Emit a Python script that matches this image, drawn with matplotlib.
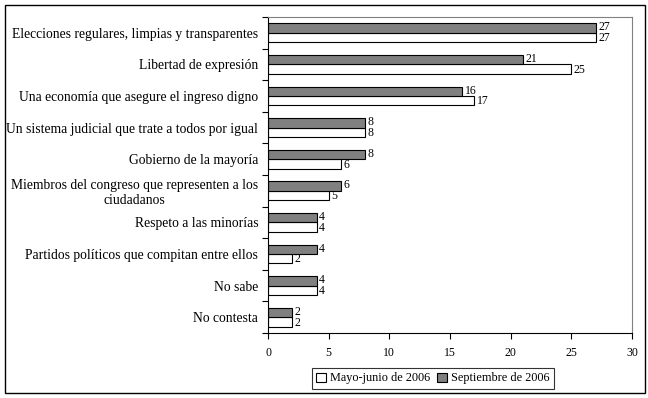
import matplotlib
matplotlib.use("Agg")
import matplotlib.pyplot as plt
from matplotlib.patches import Rectangle
import numpy as np

categories = [
    "Elecciones regulares, limpias y transparentes",
    "Libertad de expresión",
    "Una economía que asegure el ingreso digno",
    "Un sistema judicial que trate a todos por igual",
    "Gobierno de la mayoría",
    "Miembros del congreso que representen a los\nciudadanos",
    "Respeto a las minorías",
    "Partidos políticos que compitan entre ellos",
    "No sabe",
    "No contesta",
]
mayo_junio = [27, 25, 17, 8, 6, 5, 4, 2, 4, 2]
septiembre = [27, 21, 16, 8, 8, 6, 4, 4, 4, 2]
series_names = ["Mayo-junio de 2006", "Septiembre de 2006"]
xticks = [0, 5, 10, 15, 20, 25, 30]

plt.rcParams['font.family'] = ['Liberation Serif', 'DejaVu Serif']

fig = plt.figure(figsize=(6.48, 3.98), dpi=100)
ax = fig.add_axes([268/648, 1-333/398, (632-268)/648, (333-17)/398])

n = len(categories)
y = np.arange(n)
h = 0.30
b1 = ax.barh(y + h/2, mayo_junio, height=h, color='white', edgecolor='black', linewidth=0.8, label=series_names[0])
b2 = ax.barh(y - h/2, septiembre, height=h, color='#808080', edgecolor='black', linewidth=0.8, label=series_names[1])

for rect, v in zip(b1, mayo_junio):
    ax.text(rect.get_width() + 0.2, rect.get_y() + rect.get_height()/2 + 0.02, str(v), va='center', ha='left', fontsize=8.5)
for rect, v in zip(b2, septiembre):
    ax.text(rect.get_width() + 0.2, rect.get_y() + rect.get_height()/2 - 0.02, str(v), va='center', ha='left', fontsize=8.5)

ax.set_ylim(n - 0.5, -0.5)
ax.set_xlim(0, 30)
ax.set_xticks(xticks)
ax.set_xticklabels([str(t) for t in xticks], fontsize=8.5)
ax.set_yticks(y)
ax.set_yticklabels(categories, fontsize=9.8, ha='right', multialignment='center')
ax.tick_params(axis='y', which='major', length=0, pad=7)
ax.set_yticks(np.arange(-0.5, n + 0.5, 1), minor=True)
ax.tick_params(axis='y', which='minor', length=4, direction='out', width=0.8)
ax.tick_params(axis='x', length=4, direction='out', width=0.8, pad=6)

ax.spines['left'].set_color('black')
ax.spines['bottom'].set_color('black')
ax.spines['top'].set_color('#808080')
ax.spines['right'].set_color('#808080')
for s in ax.spines.values():
    s.set_linewidth(0.8)

leg = ax.legend(handles=[b1, b2], loc='center', bbox_to_anchor=(433/648, 1-378.5/398),
                bbox_transform=fig.transFigure, ncol=2, frameon=True, fancybox=False,
                edgecolor='black', fontsize=8.8, handlelength=0.8, handleheight=0.8,
                handletextpad=0.3, columnspacing=0.6, borderpad=0.35, borderaxespad=0)
leg.get_frame().set_linewidth(0.8)

fig.patches.append(Rectangle((5/648, 5/398), 640/648, 388/398, transform=fig.transFigure,
                             fill=False, edgecolor='black', linewidth=1))

fig.savefig("out.png", dpi=100)
